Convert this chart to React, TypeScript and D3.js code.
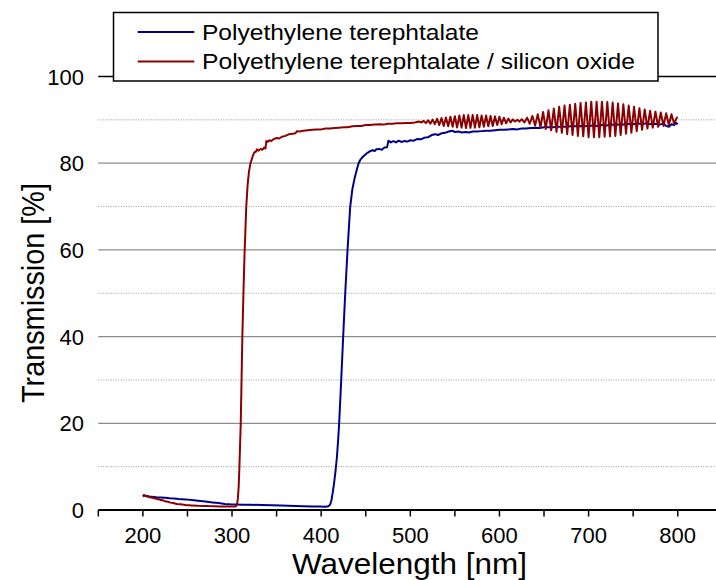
import React from "react";
import * as d3 from "d3";

const W = 716;
const H = 580;

const xDomain: [number, number] = [150, 850];
const yDomain: [number, number] = [0, 100];
const xTickLabels = [200, 300, 400, 500, 600, 700, 800];
const xTickMarks = [150, 200, 250, 300, 350, 400, 450, 500, 550, 600, 650, 700, 750, 800, 850];
const yTickLabels = [0, 20, 40, 60, 80, 100];
const ySolidGrid = [20, 40, 60, 80];
const yDottedGrid = [10, 30, 50, 70, 90];

const xTitle = "Wavelength [nm]";
const yTitle = "Transmission [%]";
const seriesNames = ["Polyethylene terephtalate", "Polyethylene terephtalate / silicon oxide"];
const seriesColors = ["#00008b", "#8b0000"];

// PET (blue) — [wavelength nm, transmission %]
const petData: [number, number][] = [
  [200, 3.4], [203, 3.3], [206, 3.1], [210, 3.05], [215, 2.95], [220, 2.9], [225, 2.8], [230, 2.7],
  [235, 2.65], [240, 2.55], [248, 2.45], [255, 2.3], [262, 2.15], [270, 1.95], [278, 1.75], [285, 1.6],
  [292, 1.4], [298, 1.3], [305, 1.25], [312, 1.22], [320, 1.2], [334, 1.15], [345, 1.08], [355, 1.02],
  [363, 0.98], [371, 0.92], [380, 0.88], [390, 0.82], [398, 0.8], [405, 0.77], [408, 0.85], [410, 1.2],
  [411.5, 2.2], [413, 4], [414.5, 6.2], [416, 8.8], [417.6, 12], [419, 16], [420.2, 20], [422.5, 30], [424.7, 40],
  [427, 50], [429.6, 60], [432.6, 70], [435, 74], [437.5, 76.5], [440, 78.5], [442, 80], [444, 80.8],
  [446, 81.3], [449, 81.9], [452, 82.4], [455, 82.8], [458, 83.0], [460, 82.8], [462, 83.2], [465, 83.3],
  [468, 83.1], [471, 83.6], [474, 83.7], [475.5, 85.2], [478, 84.8], [481, 85.1], [484, 84.8], [487, 85.2],
  [490, 84.9], [493, 85.1], [497, 85.0], [500, 85.3], [504, 85.2], [508, 85.6], [512, 85.5], [516, 85.9],
  [520, 86.0], [524, 86.5], [528, 86.7], [531, 86.5], [535, 86.9], [539, 87.0], [543, 87.3], [547, 87.5],
  [550, 87.2], [554, 87.3], [558, 87.1], [562, 87.2], [566, 87.1], [570, 87.3], [575, 87.3], [580, 87.4],
  [585, 87.5], [590, 87.5], [595, 87.6], [600, 87.7], [605, 87.7], [610, 87.8], [615, 87.9], [620, 87.8],
  [625, 88.0], [630, 88.0], [635, 88.1], [640, 88.2], [645, 88.1], [650, 88.3], [655, 88.3], [660, 88.3],
  [665, 88.4], [670, 88.4], [675, 88.4], [680, 88.5], [685, 88.5], [690, 88.6], [695, 88.5], [700, 88.6],
  [705, 88.7], [710, 88.6], [715, 88.8], [720, 88.7], [725, 88.9], [730, 88.8], [735, 89.0], [740, 88.9],
  [745, 89.1], [750, 89.0], [755, 89.2], [760, 89.0], [765, 89.2], [770, 89.0], [775, 89.1], [780, 88.9],
  [784, 89.2], [787, 88.6], [790, 88.4], [793, 89.0], [796, 88.8], [798, 89.3], [800, 89.0],
];

// PET / SiOx (red)
const petSiData: [number, number][] = [
  [200, 3.5], [201, 3.2], [202, 3.4], [204, 3.1], [206, 3.2], [208, 2.9], [210, 2.9], [212, 2.7],
  [214, 2.7], [216, 2.5], [218, 2.5], [220, 2.3], [222, 2.3], [225, 2.0], [228, 1.9], [231, 1.7],
  [234, 1.6], [238, 1.4], [242, 1.3], [248, 1.15], [255, 1.05], [262, 0.98], [268, 0.95], [274, 0.9],
  [280, 0.88], [287, 0.82], [294, 0.8], [300, 0.78], [304, 0.82], [305.5, 1.2], [306.5, 2.5], [307.5, 5.5],
  [308.3, 10], [309.8, 20], [310.7, 30], [311.6, 40], [312.8, 50], [314.2, 60], [316, 70], [317.5, 75],
  [319, 78], [320.5, 79.8], [322, 80.8], [323.5, 81.8], [325, 82.5], [327, 82.7], [328, 83.2], [330, 82.9],
  [332, 83.3], [334, 83.1], [336, 83.6], [337.5, 83.4], [338.5, 85.1], [340, 84.9], [342, 85.3], [344, 85.1],
  [347, 85.6], [350, 85.8], [353, 85.7], [356, 86.1], [360, 86.3], [364, 86.7], [368, 86.8], [371, 86.9],
  [373, 87.4], [376, 87.3], [380, 87.5], [385, 87.6], [390, 87.7], [395, 87.8], [400, 87.8], [405, 88.0],
  [410, 88.0], [415, 88.1], [420, 88.2], [425, 88.3], [430, 88.3], [435, 88.5], [440, 88.6], [445, 88.6],
  [450, 88.8], [455, 88.8], [460, 88.9], [465, 89.0], [470, 88.9], [475, 89.1], [480, 89.1], [485, 89.2],
  [490, 89.2], [495, 89.3], [500, 89.3], [505, 89.4],
  // interference fringes, first lobe
  [510, 89.6], [512.5, 89.4], [515, 89.75], [517.5, 89.25], [520, 89.9], [522.5, 89.1], [525, 90.05],
  [527.5, 89.0], [530, 90.25], [532.5, 88.8], [535, 90.4], [537.5, 88.6], [540, 90.55], [542.5, 88.5],
  [545, 90.7], [547.5, 88.4], [550, 90.85], [552.5, 88.25], [555, 91.0], [557.5, 88.2], [560, 91.1],
  [562.5, 88.1], [565, 91.1], [567.5, 88.15], [570, 91.15], [572.5, 88.2], [575, 91.1], [577.5, 88.3],
  [580, 91.0], [582.5, 88.4], [585, 91.0], [587.5, 88.5], [590, 90.9], [592.5, 88.6], [595, 90.8],
  [597.5, 88.8], [600, 90.7], [602.5, 89.0], [605, 90.5], [607.5, 89.2], [610, 90.3], [612.5, 89.4],
  [615, 90.1], [617.5, 89.6], [620, 90.0], [622.5, 89.6], [625, 90.15],
  // second lobe
  [628, 89.4], [631, 90.5], [634, 89.1], [637, 90.9], [640, 88.7], [643, 91.3], [646, 88.3], [649, 91.8],
  [652, 87.9], [655, 92.2], [658, 87.6], [661, 92.6], [664, 87.2], [667, 93.0], [670, 87.0], [673, 93.3],
  [676, 86.7], [679, 93.5], [682, 86.5], [685, 93.7], [688, 86.3], [691, 93.9], [694, 86.2], [697, 94.0],
  [700, 86.0], [703, 94.2], [706, 86.0], [709, 94.2], [712, 86.0], [715, 94.2], [718, 86.1], [721, 94.1],
  [724, 86.2], [727, 94.0], [730, 86.3], [733, 93.8], [736, 86.5], [739, 93.6], [742, 86.8], [745, 93.3],
  [748, 87.05], [751, 93.0], [754, 87.4], [757, 92.7], [760, 87.7], [763, 92.4], [766, 88.0], [769, 92.1],
  [772, 88.2], [775, 91.9], [778, 88.4], [781, 91.7], [784, 88.6], [787, 91.5], [790, 88.8], [793, 91.3],
  [796, 89.1], [799, 90.5], [800, 90.6],
];

const allSeries = [petData, petSiData];

const FONT = "'Liberation Sans', Arial, Helvetica, sans-serif";

export default function App() {
  const x = d3.scaleLinear().domain(xDomain).range([98.3, 722.3]);
  const y = d3.scaleLinear().domain(yDomain).range([510, 76.5]);
  const line = d3
    .line<[number, number]>()
    .x((d) => x(d[0]))
    .y((d) => y(d[1]));

  const gridX0 = x(xDomain[0]);

  return (
    <svg
      width={W}
      height={H}
      style={{ position: "absolute", left: 0, top: 0, background: "#fff" }}
      fontFamily={FONT}
    >
      <rect x={0} y={0} width={W} height={H} fill="#fff" />
      {yDottedGrid.map((v) => (
        <line key={"d" + v} x1={gridX0} x2={W} y1={y(v)} y2={y(v)} stroke="#9a9a9a" strokeWidth={1} strokeDasharray="1,1.5" />
      ))}
      {ySolidGrid.map((v) => (
        <line key={"s" + v} x1={gridX0} x2={W} y1={y(v)} y2={y(v)} stroke="#8c8c8c" strokeWidth={1.3} />
      ))}
      <line x1={gridX0} x2={W} y1={y(100)} y2={y(100)} stroke="#000" strokeWidth={1.5} />

      {yTickLabels.map((v) => (
        <text key={"yl" + v} x={84} y={y(v) + 8} fontSize={22} textAnchor="end" fill="#000">
          {v}
        </text>
      ))}

      <line x1={gridX0} x2={W} y1={y(0)} y2={y(0)} stroke="#000" strokeWidth={2} />
      {xTickMarks.map((v) => (
        <line key={"xt" + v} x1={x(v)} x2={x(v)} y1={y(0)} y2={y(0) + 6.5} stroke="#000" strokeWidth={1.5} />
      ))}
      {xTickLabels.map((v) => (
        <text key={"xl" + v} x={x(v)} y={543} fontSize={22} textAnchor="middle" fill="#000">
          {v}
        </text>
      ))}

      {allSeries.map((s, i) => (
        <path key={"p" + i} d={line(s) || ""} fill="none" stroke={seriesColors[i]} strokeWidth={2} strokeLinejoin="round" />
      ))}

      <text x={409.5} y={574} fontSize={30} textAnchor="middle" textLength={235} lengthAdjust="spacingAndGlyphs">
        {xTitle}
      </text>
      <g transform={`translate(44,293) scale(1.1,1) rotate(-90)`}>
        <text x={0} y={0} fontSize={29} textAnchor="middle" textLength={220} lengthAdjust="spacingAndGlyphs">
          {yTitle}
        </text>
      </g>

      <rect x={113.5} y={12.5} width={544.5} height={68.5} fill="#fff" stroke="#000" strokeWidth={1.5} />
      {seriesNames.map((n, i) => {
        const ly = i === 0 ? 32 : 61.5;
        return (
          <g key={"lg" + i}>
            <line x1={137.7} x2={194.3} y1={ly} y2={ly} stroke={seriesColors[i]} strokeWidth={2} />
            <text
              x={202}
              y={ly + 7.6}
              fontSize={22}
              textLength={i === 0 ? 277 : 433}
              lengthAdjust="spacingAndGlyphs"
            >
              {n}
            </text>
          </g>
        );
      })}
    </svg>
  );
}
